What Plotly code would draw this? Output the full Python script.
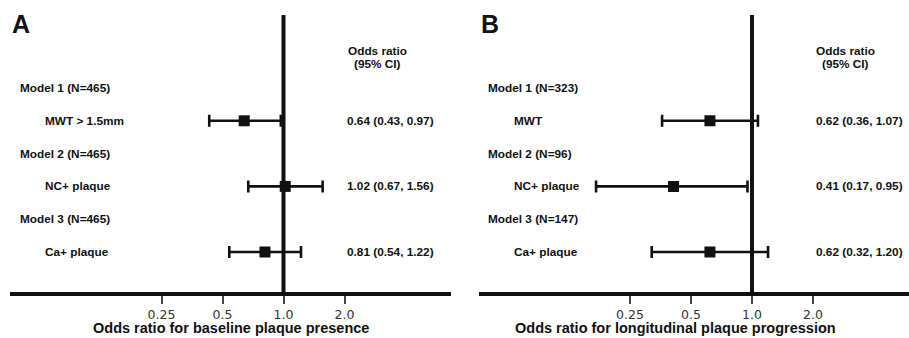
import math
import plotly.graph_objects as go

# ---------------- data ----------------
row_labels_a = ["Model 1 (N=465)", "MWT > 1.5mm", "Model 2 (N=465)", "NC+ plaque", "Model 3 (N=465)", "Ca+ plaque"]
row_labels_b = ["Model 1 (N=323)", "MWT", "Model 2 (N=96)", "NC+ plaque", "Model 3 (N=147)", "Ca+ plaque"]
row_is_header = [True, False, True, False, True, False]

or_a = [0.64, 1.02, 0.81]
lo_a = [0.43, 0.67, 0.54]
hi_a = [0.97, 1.56, 1.22]

or_b = [0.62, 0.41, 0.62]
lo_b = [0.36, 0.17, 0.32]
hi_b = [1.07, 0.95, 1.20]

tick_vals = [0.25, 0.5, 1.0, 2.0]
tick_text = ["0.25", "0.5", "1.0", "2.0"]

title_a = "Odds ratio for baseline plaque presence"
title_b = "Odds ratio for longitudinal plaque progression"
panel_letters = ["A", "B"]
header_lines = ["Odds ratio", "(95% CI)"]

# ---------------- layout constants ----------------
W, H = 909, 338
PX_PER_DEC = 61 / math.log10(2)
SHIFT = 468.5
REF_PX = 283.5
AX_LEFT, AX_RIGHT = 10, 451
ROW0_PX, ROW_STEP = 88, 32.8
TOP_PX, BOT_PX = 15, 292
PAD = 2  # annotation inner padding compensation

def py(px):
    return (H - px) / H

def px_(x):
    return x / W

def row_of(pxv):
    return (pxv - ROW0_PX) / ROW_STEP

fig = go.Figure()

FONT = "Liberation Sans, Arial, sans-serif"
DARK = "#111111"

panels = [
    (row_labels_a, or_a, lo_a, hi_a, title_a, 0, 231),
    (row_labels_b, or_b, lo_b, hi_b, title_b, SHIFT, 675.5),
]

annotations = []
shapes = []
for i, (labels, ors, los, his, title, shift, title_cx) in enumerate(panels):
    xa = "x" if i == 0 else "x2"
    ya = "y" if i == 0 else "y2"
    data_rows = [r for r, h in enumerate(row_is_header) if not h]
    fig.add_trace(go.Scatter(
        x=ors, y=data_rows, xaxis=xa, yaxis=ya, mode="markers",
        marker=dict(symbol="square", size=11, color=DARK),
        error_x=dict(type="data", symmetric=False,
                     array=[h - o for h, o in zip(his, ors)],
                     arrayminus=[o - l for o, l in zip(ors, los)],
                     thickness=2.6, width=6, color=DARK),
        showlegend=False, hoverinfo="skip",
    ))
    # reference line at OR = 1
    shapes.append(dict(type="line", xref=xa, yref=f"{ya} domain", x0=1, x1=1, y0=0, y1=1,
                       line=dict(color=DARK, width=4)))
    # row labels
    for r, (lab, hdr) in enumerate(zip(labels, row_is_header)):
        xpx = (19.5 if hdr else 45) + shift - PAD
        annotations.append(dict(xref="paper", yref=ya, x=px_(xpx), y=r, text=lab,
                                showarrow=False, xanchor="left", yanchor="middle",
                                font=dict(family=FONT, size=11.8, color=DARK, weight="bold")))
    # OR text
    for r, o, l, h in zip(data_rows, ors, los, his):
        txt = f"{o:.2f} ({l:.2f}, {h:.2f})"
        annotations.append(dict(xref="paper", yref=ya, x=px_(347 + shift - PAD), y=r, text=txt,
                                showarrow=False, xanchor="left", yanchor="middle",
                                font=dict(family=FONT, size=11.8, color=DARK, weight="bold")))
    # header
    for k, (line, ypx) in enumerate(zip(header_lines, [51, 63.5])):
        annotations.append(dict(xref="paper", yref=ya, x=px_(377 + shift), y=row_of(ypx), text=line,
                                showarrow=False, xanchor="center", yanchor="middle",
                                font=dict(family=FONT, size=11.8, color=DARK, weight="bold")))
    # panel letter
    annotations.append(dict(xref="paper", yref="paper", x=px_(12 + shift - PAD), y=py(24.5),
                            text=panel_letters[i], showarrow=False, xanchor="left", yanchor="middle",
                            font=dict(family=FONT, size=25, color=DARK, weight="bold")))
    # x title
    annotations.append(dict(xref="paper", yref="paper", x=px_(title_cx), y=py(328), text=title,
                            showarrow=False, xanchor="center", yanchor="middle",
                            font=dict(family=FONT, size=14.5, color=DARK, weight="bold")))

ref_a = REF_PX
ref_b = REF_PX + SHIFT
rng_a = [(AX_LEFT - ref_a) / PX_PER_DEC, (AX_RIGHT - ref_a) / PX_PER_DEC]
rng_b = [(AX_LEFT + SHIFT - ref_b) / PX_PER_DEC, (W - ref_b) / PX_PER_DEC]

xcommon = dict(type="log", tickvals=tick_vals, ticktext=tick_text, showgrid=False, zeroline=False,
               showline=True, linecolor=DARK, linewidth=3.5, ticks="outside", ticklen=8,
               tickwidth=1.5, tickcolor="#444444",
               tickfont=dict(family="DejaVu Sans, sans-serif", size=12.5, color="#333333"),
               fixedrange=True)
yrange = [row_of(BOT_PX), row_of(TOP_PX)]
ycommon = dict(range=yrange, visible=False, showgrid=False, zeroline=False, fixedrange=True)
ydom = [py(BOT_PX), py(TOP_PX)]

fig.update_layout(
    width=W, height=H, margin=dict(l=0, r=0, t=0, b=0),
    paper_bgcolor="white", plot_bgcolor="white",
    xaxis=dict(domain=[px_(AX_LEFT), px_(AX_RIGHT)], range=rng_a, anchor="y", **xcommon),
    xaxis2=dict(domain=[px_(AX_LEFT + SHIFT), 1.0], range=rng_b, anchor="y2", **xcommon),
    yaxis=dict(domain=ydom, anchor="x", **ycommon),
    yaxis2=dict(domain=ydom, anchor="x2", **ycommon),
    annotations=annotations, shapes=shapes,
)

fig.write_html("out.html", config={"displayModeBar": False},
               post_script="document.body.style.margin='0px';document.body.style.overflow='hidden';")
